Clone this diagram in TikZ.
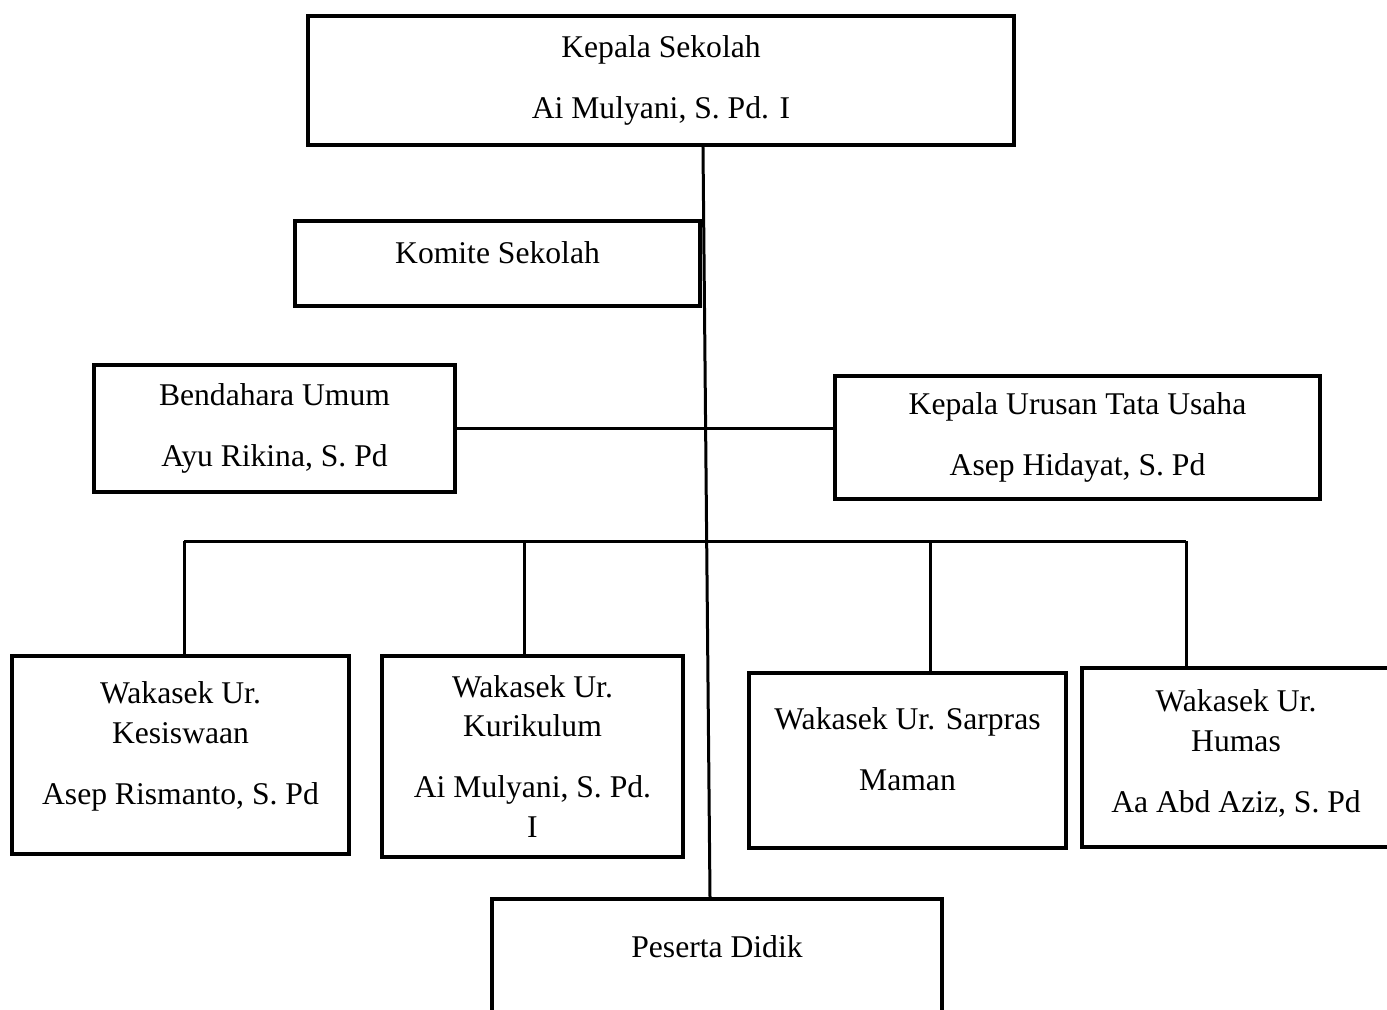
\documentclass[tikz,border=0pt]{standalone}
\usepackage{fontspec}
\setmainfont{Liberation Serif}

\begin{document}
\begin{tikzpicture}[x=0.02cm,y=-0.02cm]
    \tikzset{every node/.style={font=\fontsize{18}{22.7}\selectfont,align=center,inner sep=0pt},
             unit/.style={draw,line width=0.08cm,rectangle},
             conn/.style={draw,line width=0.06cm}}
    \useasboundingbox (0,0) rectangle (1387,1010);
    \clip (0,0) rectangle (1387,1010);

    \node [unit,minimum width=14.12cm,minimum height=2.58cm] (kepala) at (661,80.5)
        {Kepala Sekolah\\[12pt]Ai Mulyani, S. Pd. I};
    \node [unit,minimum width=8.1cm,minimum height=1.7cm,text depth=0.44cm] (komite) at (497.5,263.5)
        {Komite Sekolah};
    \node [unit,minimum width=7.22cm,minimum height=2.54cm] (bendahara) at (274.5,428.5)
        {Bendahara Umum\\[12pt]Ayu Rikina, S. Pd};
    \node [unit,minimum width=9.7cm,minimum height=2.46cm] (tatausaha) at (1077.5,437.5)
        {Kepala Urusan Tata Usaha\\[12pt]Asep Hidayat, S. Pd};

    \node [unit,minimum width=6.74cm,minimum height=3.96cm,text depth=0.49cm] (kesiswaan) at (180.5,755)
        {Wakasek Ur.\\Kesiswaan\\[12pt]Asep Rismanto, S. Pd};
    \node [unit,minimum width=6.02cm,minimum height=4.02cm] (kurikulum) at (532.5,756.5)
        {Wakasek Ur.\\Kurikulum\\[12pt]Ai Mulyani, S. Pd.\\I};
    \node [unit,minimum width=6.34cm,minimum height=3.5cm,text depth=0.44cm] (sarpras) at (907.5,760.5)
        {Wakasek Ur. Sarpras\\[12pt]Maman};
    \node [unit,minimum width=6.16cm,minimum height=3.58cm,text depth=0.25cm] (humas) at (1236,757.5)
        {Wakasek Ur.\\Humas\\[12pt]Aa Abd Aziz, S. Pd};

    \node [unit,minimum width=9cm,minimum height=3.12cm,anchor=north] (peserta) at (717,897)
        {Peserta Didik\\[12pt]\mbox{}};

    \draw [conn] ([xshift=0.84cm]kepala.south) -- ([xshift=-0.14cm]peserta.north);
    \draw [conn] (bendahara.east) -- (bendahara.east -| tatausaha.west);

    \coordinate (bus) at (703,541);
    \draw [conn] ([xshift=0.07cm]kesiswaan.north |- bus) -- ([xshift=-1cm]humas.north |- bus);
    \foreach \n/\dx in {kesiswaan/0.07,kurikulum/-0.17,sarpras/0.45,humas/-1}
        \draw [conn] ([xshift=\dx cm]\n.north) -- ([xshift=\dx cm]\n.north |- bus);

\end{tikzpicture}
\end{document}
